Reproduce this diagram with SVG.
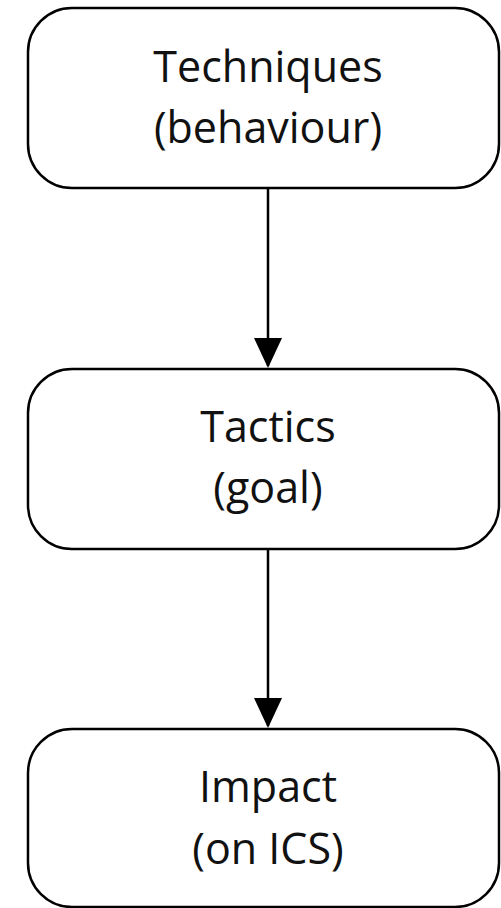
<svg xmlns="http://www.w3.org/2000/svg" width="501" height="908" viewBox="0 0 501 908">
<style>
.box{fill:#fff;stroke:#000;stroke-width:2.5}
.lbl{font-family:"Open Sans","Noto Sans",sans-serif;font-size:43px;fill:#111;text-anchor:middle}
.conn{stroke:#000;stroke-width:2.5;fill:none}
</style>
<defs>
<marker id="arr" markerUnits="userSpaceOnUse" markerWidth="30" markerHeight="28" refX="28" refY="14" orient="auto" viewBox="0 0 30 28">
<path d="M0,0 L30,14 L0,28 Z" fill="#000"/>
</marker>
</defs>
<rect width="501" height="908" fill="#fff"/>
<g id="connectors">
<line class="conn" x1="268" y1="188" x2="268" y2="366" marker-end="url(#arr)"/>
<line class="conn" x1="268" y1="549" x2="268" y2="726" marker-end="url(#arr)"/>
</g>
<g id="techniques">
<rect class="box" x="28" y="8" width="471" height="180" rx="44"/>
<text class="lbl" x="268" y="82">Techniques</text>
<text class="lbl" x="268" y="143">(behaviour)</text>
</g>
<g id="tactics">
<rect class="box" x="28" y="369" width="471" height="180" rx="44"/>
<text class="lbl" x="268" y="442">Tactics</text>
<text class="lbl" x="268" y="503">(goal)</text>
</g>
<g id="impact">
<rect class="box" x="28" y="729" width="471" height="178" rx="44"/>
<text class="lbl" x="268" y="802">Impact</text>
<text class="lbl" x="268" y="864">(on ICS)</text>
</g>
</svg>
